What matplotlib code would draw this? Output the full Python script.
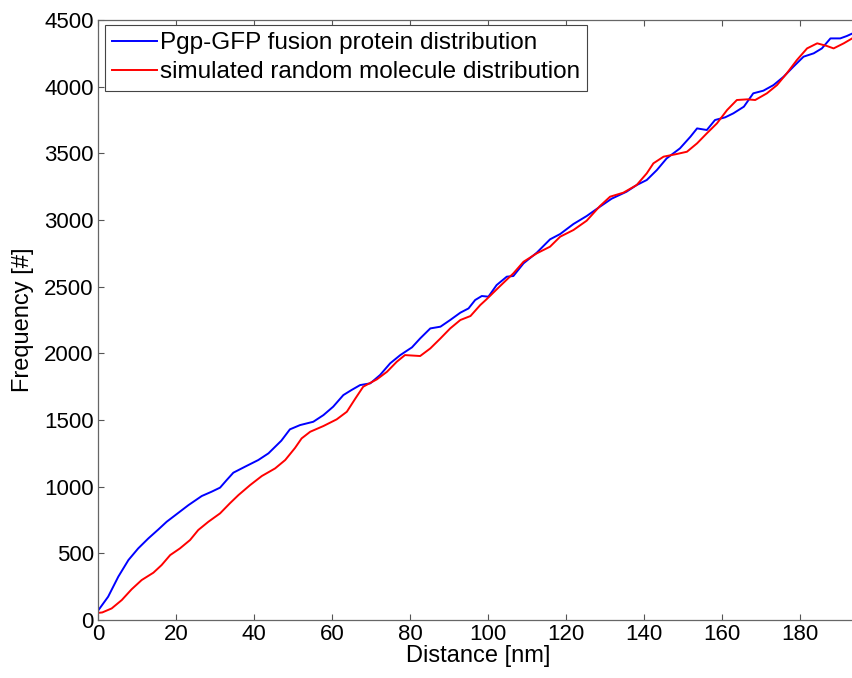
import matplotlib
matplotlib.use("Agg")
import matplotlib.pyplot as plt

# values
pgp_x = [0, 2.6, 5.2, 7.8, 10.3, 12.9, 15.5, 17.6, 20.2, 23.2, 26.6, 29.1, 31.3, 33, 34.7,
         37.7, 41.1, 43.7, 47, 49.2, 51.8, 55.2, 57.8, 60.3, 62.9, 65, 67.2, 69.8, 72.3,
         74.9, 77.5, 80.5, 82.6, 85.2, 87.8, 90.3, 92.9, 95, 96.7, 98.4, 100.1, 102.2,
         104.8, 106.5, 109.1, 112.5, 115.9, 118.5, 121.9, 125.3, 128.7, 131.7, 135.5,
         138.1, 140.7, 143.3, 145.8, 149.2, 151.9, 153.6, 156.1, 158.2, 160.8, 162.9,
         165.6, 168, 170.6, 173.2, 175.8, 178.3, 180.9, 183.5, 185.6, 187.8, 190.3, 192, 195]
pgp_y = [70, 175, 325, 450, 537, 612, 680, 737, 795, 862, 930, 962, 993, 1050, 1105,
         1150, 1200, 1250, 1345, 1430, 1462, 1487, 1537, 1600, 1687, 1725, 1762, 1775, 1837,
         1925, 1987, 2045, 2112, 2187, 2200, 2250, 2305, 2337, 2400, 2430, 2425, 2512,
         2575, 2580, 2675, 2755, 2855, 2895, 2970, 3030, 3100, 3160, 3212,
         3262, 3300, 3375, 3462, 3537, 3625, 3687, 3675, 3750, 3770, 3800,
         3850, 3950, 3970, 4012, 4075, 4150, 4225, 4250, 4287, 4362, 4362, 4380, 4420]

sim_x = [0.5, 1.1, 3.5, 6.1, 8.6, 11.2, 14.2, 16.3, 18.5, 21, 23.6, 25.7, 28.3, 31.3, 33.8,
         36, 39, 42, 45.4, 48, 50.5, 52.2, 54.4, 57.8, 61.2, 63.8, 66, 68, 71.5, 74.1,
         76.6, 78.7, 82.6, 85.2, 87.8, 90.3, 92.9, 95.5, 98, 99.6, 103.1, 106.5, 109.1,
         112.5, 115.9, 118.5, 121.9, 125.3, 128.7, 131.3, 134.7, 138.1, 140.7, 142.4, 145,
         148.4, 151, 153.6, 156.1, 158.7, 161.3, 163.8, 166.5, 168.5, 171.5, 174.1, 176.6,
         179.2, 181.8, 184.4, 186.9, 188.6, 191.2, 195]
sim_y = [55, 57, 87, 150, 230, 300, 355, 412, 487, 537, 600, 675, 737, 800, 875,
         937, 1012, 1080, 1137, 1200, 1290, 1362, 1412, 1455, 1505, 1562, 1662, 1750, 1805, 1862,
         1937, 1987, 1980, 2037, 2112, 2187, 2250, 2280, 2362, 2405, 2505, 2600, 2687,
         2750, 2800, 2875, 2925, 2995, 3105, 3175, 3205, 3262, 3350, 3425, 3475,
         3495, 3512, 3575, 3650, 3725, 3825, 3900, 3905, 3900, 3950, 4012, 4100,
         4200, 4287, 4325, 4305, 4287, 4325, 4390]

xticks = list(range(0, 181, 20))
yticks = list(range(0, 4501, 500))

plt.rcParams['font.family'] = ['Liberation Sans', 'DejaVu Sans']

fig = plt.figure(figsize=(8.53, 6.78), dpi=100)
ax = fig.add_axes([0.1149, 0.0855, 0.8916, 0.885])

ax.plot(pgp_x, pgp_y, color="#0000ff", lw=1.4, label="Pgp-GFP fusion protein distribution")
ax.plot(sim_x, sim_y, color="#ff0000", lw=1.4, label="simulated random molecule distribution")

ax.set_xlim(0, 195)
ax.set_ylim(0, 4500)
ax.set_xticks(xticks)
ax.set_yticks(yticks)
ax.tick_params(direction="in", length=4, width=0.8, color="#555555", labelsize=16,
               top=True, right=True, pad=3)
for s in ax.spines.values():
    s.set_color("#666666")
    s.set_linewidth(0.9)

ax.set_xlabel("Distance [nm]", fontsize=17, labelpad=0)
ax.set_ylabel("Frequency [#]", fontsize=17, labelpad=7)

leg = ax.legend(loc="upper left", bbox_to_anchor=(0.009, 0.992), borderaxespad=0,
                fontsize=17.5, frameon=True, fancybox=False, framealpha=1,
                handlelength=1.85, handletextpad=0.12, labelspacing=0.3, borderpad=0.3)
leg.get_frame().set_edgecolor("#444444")
leg.get_frame().set_linewidth(0.8)

fig.savefig("out.png", dpi=100)
